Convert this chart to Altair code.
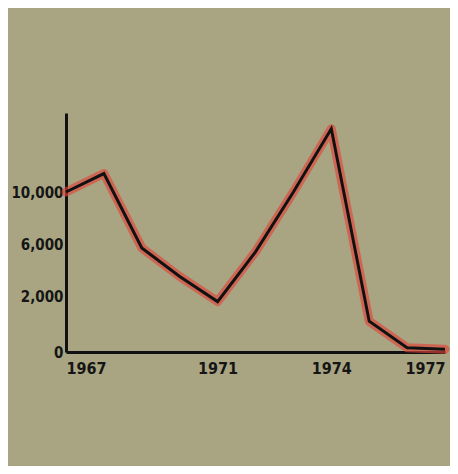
import altair as alt
import pandas as pd

years = [1967, 1968, 1969, 1970, 1971, 1972, 1973, 1974, 1975, 1976, 1977]
values = [10000, 11400, 5700, 3500, 1800, 5400, 10000, 14800, 1100, 150, 100]
y_ticks = [0, 2000, 6000, 10000]
x_ticks = [1967, 1971, 1974, 1977]

df = pd.DataFrame({"year": years, "value": values})

FONT = "DejaVu Sans Condensed"
BG = "#a9a582"

x = alt.X(
    "year:Q",
    scale=alt.Scale(domain=[1967, 1977], nice=False, zero=False),
    axis=alt.Axis(
        values=x_ticks, labelExpr="format(datum.value, 'd')", title=None, grid=False, ticks=False,
        domainColor="#111111", domainWidth=3, labelPadding=8,
        labelFont=FONT, labelFontSize=16, labelFontWeight="bold", labelColor="#151515",
        labelAlign=alt.ExprRef("datum.value == 1967 ? 'left' : datum.value == 1977 ? 'right' : 'center'"),
        labelFlush=False, labelOverlap=False,
    ),
)
y = alt.Y(
    "value:Q",
    scale=alt.Scale(domain=[0, 2000, 6000, 10000, 16000], range=[239, 183, 131, 79, 0], nice=False, zero=False),
    axis=alt.Axis(
        values=y_ticks, labelExpr="format(datum.value, ',')", title=None, grid=False, ticks=False,
        domainColor="#111111", domainWidth=3, labelPadding=3,
        labelFont=FONT, labelFontSize=15, labelFontWeight="bold", labelColor="#151515",
        labelFlush=False, labelOverlap=False,
    ),
)

base = alt.Chart(df)
glow = base.mark_line(color="#e0443a", strokeWidth=9, opacity=0.65, strokeJoin="round", strokeCap="round").encode(x=x, y=y)
line = base.mark_line(color="#111111", strokeWidth=3, strokeJoin="miter").encode(x=x, y=y)

chart = alt.layer(glow, line).properties(
    width=379,
    height=239,
    autosize=alt.AutoSizeParams(type="none"),
    padding={"left": 58, "top": 105, "right": 5, "bottom": 114},
    background=BG,
).configure_view(stroke=None)

chart.save("out.html", embed_options={"renderer": "svg", "actions": False})
